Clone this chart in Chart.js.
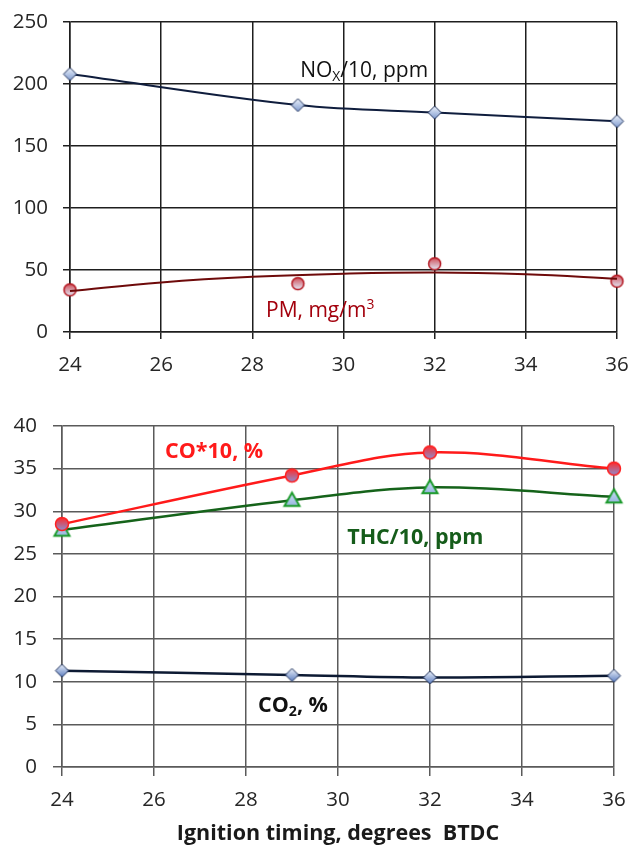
<!DOCTYPE html>
<html>
<head>
<meta charset="utf-8">
<script src="https://cdn.jsdelivr.net/npm/chart.js@4.4.1/dist/chart.umd.min.js"></script>
<style>
  body { margin: 0; background: #fff; }
  canvas { display: block; }
</style>
</head>
<body>
<canvas id="topChart" width="631" height="380"></canvas>
<canvas id="bottomChart" width="631" height="472"></canvas>
<script>
// ignition timing, degrees BTDC
const timing = [24, 29, 32, 36];
const xTicks = [24, 26, 28, 30, 32, 34, 36];

// top chart
const noxDiv10 = [208, 183, 177, 170];
const pm = [34, 39, 55, 41];
// PM trend line at every grid column
const pmTrendX = [24, 26, 28, 30, 32, 34, 36];
const pmTrend = [33, 40, 44.5, 47, 48, 46.5, 43];

// bottom chart
const coX10 = [28.5, 34.2, 36.9, 35.0];
const thcDiv10 = [27.8, 31.3, 32.8, 31.7];
const co2 = [11.3, 10.8, 10.5, 10.7];

const FONT = '"Open Sans", "DejaVu Sans", sans-serif';

function pts(xs, ys) {
    return xs.map((x, i) => ({ x: x, y: ys[i] }));
}

// small picture markers with the soft gradient fill of the original
function marker(shape, r, stroke, top, bottom, lw) {
    const s = Math.ceil(r * 2 + lw * 2 + 2);
    const c = document.createElement('canvas');
    c.width = c.height = s;
    const g = c.getContext('2d');
    const m = s / 2;
    g.beginPath();
    if (shape === 'diamond') {
        g.moveTo(m, m - r); g.lineTo(m + r, m); g.lineTo(m, m + r); g.lineTo(m - r, m); g.closePath();
    } else if (shape === 'circle') {
        g.arc(m, m, r, 0, Math.PI * 2);
    } else {
        g.moveTo(m, m - r); g.lineTo(m + r, m + r * 0.75); g.lineTo(m - r, m + r * 0.75); g.closePath();
    }
    const grad = g.createLinearGradient(0, m - r, 0, m + r);
    grad.addColorStop(0, top);
    grad.addColorStop(1, bottom);
    g.fillStyle = grad;
    g.fill();
    g.lineWidth = lw;
    g.strokeStyle = stroke;
    g.stroke();
    return c;
}

// text labels next to the curves, anchored in data units
const labelPlugin = {
    id: 'seriesLabels',
    afterDatasetsDraw(chart, args, opts) {
        const ctx = chart.ctx;
        const xs = chart.scales.x, ys = chart.scales.y;
        (opts.items || []).forEach(item => {
            let x = xs.getPixelForValue(item.x);
            const y = ys.getPixelForValue(item.y);
            ctx.save();
            ctx.fillStyle = item.color;
            ctx.textAlign = 'left';
            ctx.textBaseline = 'alphabetic';
            item.parts.forEach(p => {
                const small = p.sub || p.sup;
                const size = small ? item.size * 0.66 : item.size;
                ctx.font = `${item.weight} ${size}px ${FONT}`;
                const dy = p.sub ? item.size * 0.2 : (p.sup ? -item.size * 0.38 : 0);
                ctx.fillText(p.t, x, y + dy);
                x += ctx.measureText(p.t).width;
            });
            ctx.restore();
        });
    }
};

function axisOpts(gridColor, tickLen, pad, fontSize) {
    return {
        grid: { color: gridColor, lineWidth: 1.5, tickLength: tickLen, drawTicks: true },
        border: { color: gridColor, width: 1.5 },
        ticks: { color: '#262626', padding: pad, font: { family: FONT, size: fontSize } }
    };
}

function noPad(s) {
    s.paddingLeft = s.paddingRight = s.paddingTop = s.paddingBottom = 0;
}

// ===== top chart: NOx and PM =====
const topX = axisOpts('#1e1e1e', 7, 14, 20.5);
topX.type = 'linear';
topX.min = 24; topX.max = 36;
topX.ticks.stepSize = 2;
topX.afterBuildTicks = s => { s.ticks = xTicks.map(v => ({ value: v })); };
topX.afterFit = s => { s.height = 48; noPad(s); };

const topY = axisOpts('#1e1e1e', 7, 15, 20.5);
topY.min = 0; topY.max = 250;
topY.ticks.stepSize = 50;
topY.afterFit = s => { s.width = 70; noPad(s); };

new Chart(document.getElementById('topChart'), {
    type: 'line',
    plugins: [labelPlugin],
    data: {
        datasets: [
            {
                data: pts(timing, noxDiv10),
                borderColor: '#0f1d3d',
                borderWidth: 2,
                tension: 0.35,
                clip: false,
                pointStyle: marker('diamond', 6.5, '#1c2f5a', '#eef3fb', '#7f9bd0', 1),
                pointRadius: 7
            },
            {
                data: pts(pmTrendX, pmTrend),
                borderColor: '#6e0a0a',
                borderWidth: 2,
                tension: 0.4,
                clip: false,
                pointRadius: 0
            },
            {
                data: pts(timing, pm),
                showLine: false,
                clip: false,
                pointStyle: marker('circle', 6, '#b3121c', '#d0505a', '#e3eaf8', 1.5),
                pointRadius: 7
            }
        ]
    },
    options: {
        responsive: false,
        animation: false,
        layout: { padding: { top: 22, right: 14, left: 0, bottom: 0 } },
        plugins: {
            legend: { display: false },
            tooltip: { enabled: false },
            seriesLabels: {
                items: [
                    { x: 29.05, y: 205.5, color: '#111', weight: 'normal', size: 21,
                      parts: [{ t: 'NO' }, { t: 'X', sub: true }, { t: '/10, ppm' }] },
                    { x: 28.3, y: 12.3, color: '#a3000c', weight: 'normal', size: 21,
                      parts: [{ t: 'PM, mg/m' }, { t: '3', sup: true }] }
                ]
            }
        },
        scales: { x: topX, y: topY }
    }
});

// ===== bottom chart: CO, THC, CO2 =====
const botX = axisOpts('#5a5a5a', 9, 12, 20.5);
botX.type = 'linear';
botX.min = 24; botX.max = 36;
botX.ticks.stepSize = 2;
botX.afterBuildTicks = s => { s.ticks = xTicks.map(v => ({ value: v })); };
botX.afterFit = s => { s.height = 85; noPad(s); };
botX.title = {
    display: true,
    text: 'Ignition timing, degrees  BTDC',
    color: '#1a1a1a',
    font: { family: FONT, size: 21.5, weight: 'bold' },
    padding: { top: 4, bottom: 5 }
};

const botY = axisOpts('#5a5a5a', 9, 16, 20.5);
botY.min = 0; botY.max = 40;
botY.ticks.stepSize = 5;
botY.afterFit = s => { s.width = 62; noPad(s); };

new Chart(document.getElementById('bottomChart'), {
    type: 'line',
    plugins: [labelPlugin],
    data: {
        datasets: [
            {
                data: pts(timing, coX10),
                borderColor: '#ff1a1a',
                borderWidth: 2.5,
                tension: 0.35,
                clip: false,
                pointStyle: marker('circle', 6.5, '#ff2020', '#ff2a2a', '#8c8fd0', 1.5),
                pointRadius: 8
            },
            {
                data: pts(timing, thcDiv10),
                borderColor: '#15631a',
                borderWidth: 2.5,
                tension: 0.35,
                clip: false,
                pointStyle: marker('triangle', 7.5, '#1a9a2a', '#cfe0f5', '#8fb0dc', 2),
                pointRadius: 8
            },
            {
                data: pts(timing, co2),
                borderColor: '#0d1a33',
                borderWidth: 2.5,
                tension: 0.35,
                clip: false,
                pointStyle: marker('diamond', 6.5, '#1c2f5a', '#eef3fb', '#5a7cc0', 1),
                pointRadius: 7
            }
        ]
    },
    options: {
        responsive: false,
        animation: false,
        layout: { padding: { top: 46, right: 17, left: 0, bottom: 0 } },
        plugins: {
            legend: { display: false },
            tooltip: { enabled: false },
            seriesLabels: {
                items: [
                    { x: 26.24, y: 36.3, color: '#ff1a1a', weight: 'bold', size: 21.5,
                      parts: [{ t: 'CO*10, %' }] },
                    { x: 30.2, y: 26.2, color: '#155c1a', weight: 'bold', size: 21.5,
                      parts: [{ t: 'THC/10, ppm' }] },
                    { x: 28.26, y: 6.47, color: '#111', weight: 'bold', size: 21.5,
                      parts: [{ t: 'CO' }, { t: '2', sub: true }, { t: ', %' }] }
                ]
            }
        },
        scales: { x: botX, y: botY }
    }
});
</script>
</body>
</html>
